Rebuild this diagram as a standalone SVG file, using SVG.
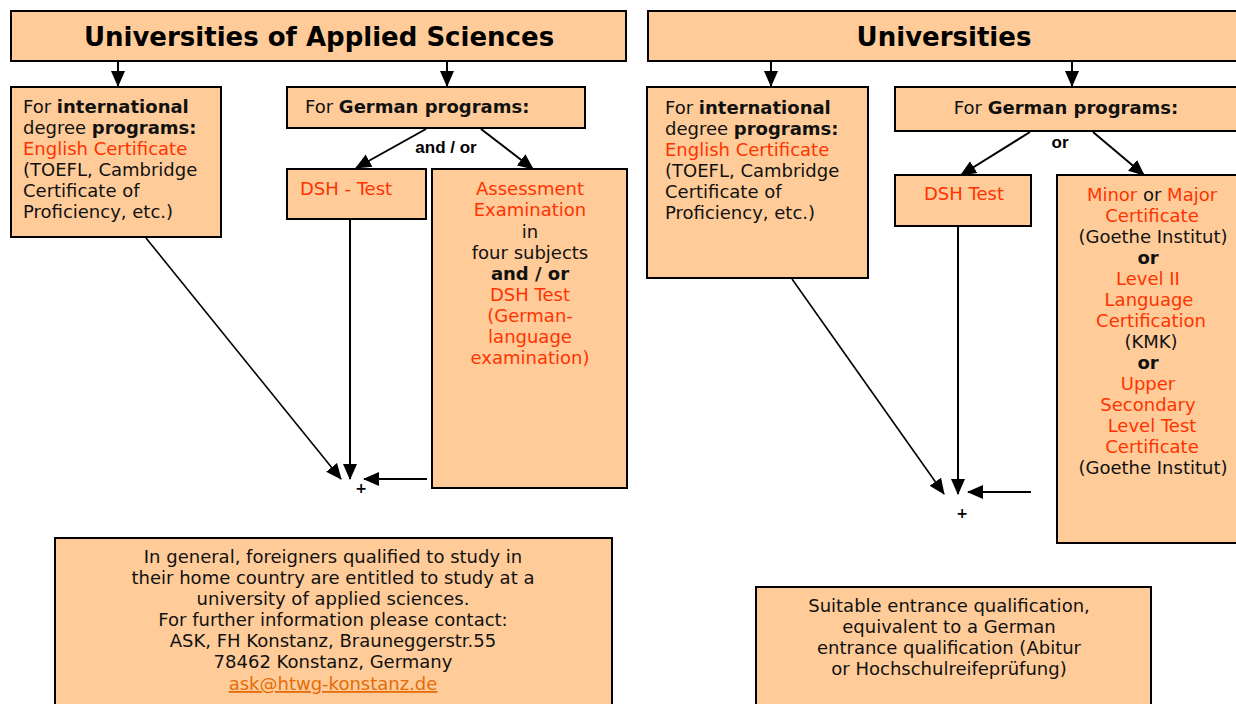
<svg xmlns="http://www.w3.org/2000/svg" width="1236" height="704" viewBox="0 0 1236 704">
<defs>
<marker id="ah2" markerWidth="16" markerHeight="16" refX="15" refY="8" orient="auto" markerUnits="userSpaceOnUse" viewBox="0 0 16 16">
<path d="M0,1 L16,8 L0,15 z" fill="#000"/>
</marker>
</defs>
<style>
.box{fill:#FFCC99;stroke:#000;stroke-width:2}
text{font-family:"DejaVu Sans",Verdana,sans-serif;font-size:18px;fill:#111}
.t{font-size:26px;font-weight:bold;text-anchor:middle;fill:#000}
.c{text-anchor:middle}
.r{fill:#FF3300}
.b{font-weight:bold}
.lbl{font-family:"Liberation Sans",Arial,sans-serif;font-size:17px;font-weight:bold;text-anchor:middle;fill:#000}
.lnk{fill:#E46C0A;text-decoration:underline}
.con{stroke:#000;stroke-width:2;fill:none;marker-end:url(#ah2)}
.con1{stroke:#000;stroke-width:1.6;fill:none;marker-end:url(#ah2)}
.plus{font-size:14px;font-weight:bold;text-anchor:middle;fill:#000}
</style>
<rect width="1236" height="704" fill="#fff"/>

<g id="connectors">
<line class="con" x1="118" y1="61" x2="118" y2="86"/>
<line class="con" x1="447" y1="61" x2="447" y2="86"/>
<line class="con" x1="426" y1="129" x2="356" y2="168"/>
<line class="con" x1="481" y1="129" x2="533" y2="169"/>
<line class="con" x1="350" y1="220" x2="350" y2="479"/>
<line class="con1" x1="146" y1="238" x2="341" y2="479"/>
<line class="con" x1="427" y1="479" x2="364" y2="479"/>

<line class="con" x1="771" y1="61" x2="771" y2="86"/>
<line class="con" x1="1072" y1="61" x2="1072" y2="86"/>
<line class="con" x1="1030" y1="132" x2="961" y2="175"/>
<line class="con" x1="1093" y1="132" x2="1144" y2="175"/>
<line class="con" x1="958" y1="227" x2="958" y2="494"/>
<line class="con1" x1="792" y1="279" x2="944" y2="494"/>
<line class="con" x1="1031" y1="492" x2="968" y2="492"/>
<text class="lbl" x="446" y="153">and / or</text>
<text class="lbl" x="1060" y="148">or</text>
<text class="plus" x="361" y="493">+</text>
<text class="plus" x="962" y="518">+</text>
</g>

<g id="title-uas">
<rect class="box" x="11" y="11" width="615" height="50"/>
<text class="t" x="319" y="46">Universities of Applied Sciences</text>
</g>

<g id="uas-international">
<rect class="box" x="11" y="87" width="210" height="150"/>
<text x="23" y="113">For <tspan class="b">international</tspan></text>
<text x="23" y="134">degree <tspan class="b">programs:</tspan></text>
<text x="23" y="155" class="r">English Certificate</text>
<text x="23" y="176">(TOEFL, Cambridge</text>
<text x="23" y="197">Certificate of</text>
<text x="23" y="218">Proficiency, etc.)</text>
</g>

<g id="uas-german">
<rect class="box" x="287" y="87" width="298" height="41"/>
<text x="305" y="113">For <tspan class="b">German programs:</tspan></text>
</g>

<g id="uas-dsh">
<rect class="box" x="287" y="169" width="139" height="50"/>
<text class="c r" x="346" y="195">DSH - Test</text>
</g>

<g id="uas-assessment">
<rect class="box" x="432" y="169" width="195" height="319"/>
<text class="c r" x="530" y="195">Assessment</text>
<text class="c r" x="530" y="216">Examination</text>
<text class="c" x="530" y="238">in</text>
<text class="c" x="530" y="259">four subjects</text>
<text class="c b" x="530" y="280">and / or</text>
<text class="c r" x="530" y="301">DSH Test</text>
<text class="c r" x="530" y="322">(German-</text>
<text class="c r" x="530" y="343">language</text>
<text class="c r" x="530" y="364">examination)</text>
</g>

<g id="uas-info">
<rect class="box" x="55" y="538" width="557" height="180"/>
<text class="c" x="333" y="563">In general, foreigners qualified to study in</text>
<text class="c" x="333" y="584">their home country are entitled to study at a</text>
<text class="c" x="333" y="605">university of applied sciences.</text>
<text class="c" x="333" y="626">For further information please contact:</text>
<text class="c" x="333" y="647">ASK, FH Konstanz, Brauneggerstr.55</text>
<text class="c" x="333" y="668">78462 Konstanz, Germany</text>
<text class="c lnk" x="333" y="690">ask@htwg-konstanz.de</text>
</g>

<g id="title-uni">
<rect class="box" x="648" y="11" width="600" height="50"/>
<text class="t" x="944" y="46">Universities</text>
</g>

<g id="uni-international">
<rect class="box" x="647" y="87" width="221" height="191"/>
<text x="665" y="114">For <tspan class="b">international</tspan></text>
<text x="665" y="135">degree <tspan class="b">programs:</tspan></text>
<text x="665" y="156" class="r">English Certificate</text>
<text x="665" y="177">(TOEFL, Cambridge</text>
<text x="665" y="198">Certificate of</text>
<text x="665" y="219">Proficiency, etc.)</text>
</g>

<g id="uni-german">
<rect class="box" x="895" y="87" width="350" height="44"/>
<text class="c" x="1066" y="114">For <tspan class="b">German programs:</tspan></text>
</g>

<g id="uni-dsh">
<rect class="box" x="895" y="175" width="136" height="51"/>
<text class="c r" x="964" y="200">DSH Test</text>
</g>

<g id="uni-certificates">
<rect class="box" x="1057" y="175" width="190" height="368"/>
<text class="c" x="1152" y="201"><tspan class="r">Minor</tspan> or <tspan class="r">Major</tspan></text>
<text class="c r" x="1152" y="222">Certificate</text>
<text class="c" x="1153" y="243">(Goethe Institut)</text>
<text class="c b" x="1148" y="264">or</text>
<text class="c r" x="1148" y="285">Level II</text>
<text class="c r" x="1149" y="306">Language</text>
<text class="c r" x="1151" y="327">Certification</text>
<text class="c" x="1151" y="348">(KMK)</text>
<text class="c b" x="1148" y="369">or</text>
<text class="c r" x="1148" y="390">Upper</text>
<text class="c r" x="1148" y="411">Secondary</text>
<text class="c r" x="1152" y="432">Level Test</text>
<text class="c r" x="1152" y="453">Certificate</text>
<text class="c" x="1153" y="474">(Goethe Institut)</text>
</g>

<g id="uni-info">
<rect class="box" x="756" y="587" width="395" height="130"/>
<text class="c" x="949" y="612">Suitable entrance qualification,</text>
<text class="c" x="949" y="633">equivalent to a German</text>
<text class="c" x="949" y="654">entrance qualification (Abitur</text>
<text class="c" x="949" y="675">or Hochschulreifeprüfung)</text>
</g>
</svg>
